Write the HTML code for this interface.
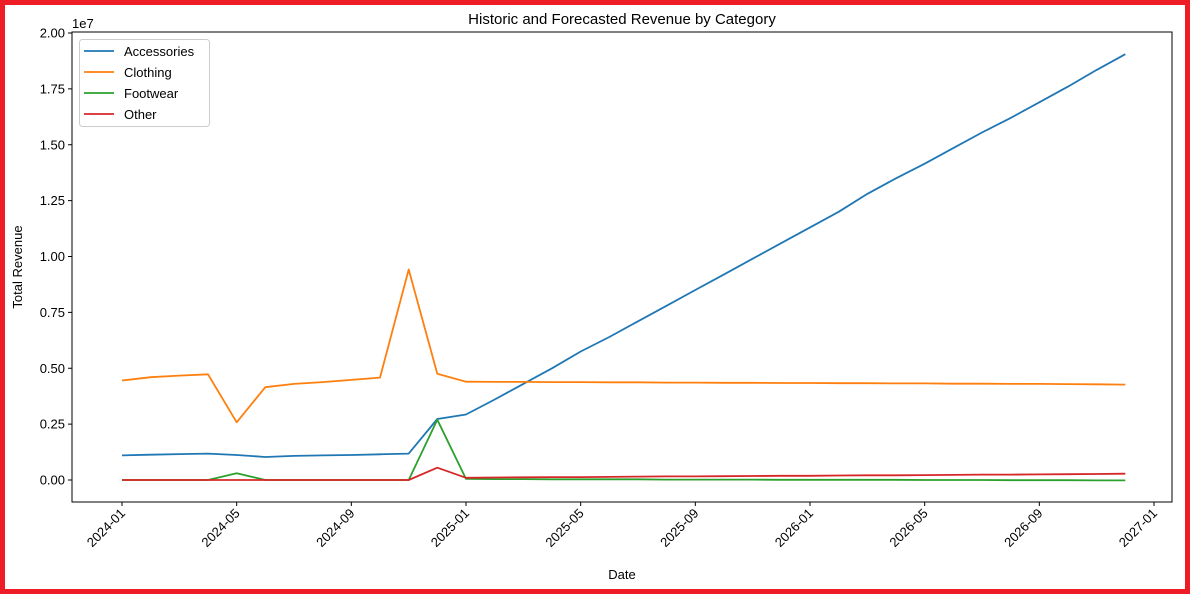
<!DOCTYPE html>
<html><head><meta charset="utf-8"><style>
html,body{margin:0;padding:0;background:#fff}
#wrap{width:1190px;height:594px;box-sizing:border-box;border:5px solid #ee1c25;position:relative;overflow:hidden}
svg{position:absolute;left:-5px;top:-5px;font-family:"Liberation Sans","DejaVu Sans",sans-serif}
</style></head><body>
<div id="wrap">
<svg id="chart" width="1190" height="594"></svg>
</div>
<script>
const months = [];
for (let y = 2024; y <= 2026; y++) for (let m = 1; m <= 12; m++) months.push(y + (m - 1) / 12);
const seriesNames = ["Accessories","Clothing","Footwear","Other"];
const accessories = [1.1,1.13,1.16,1.18,1.12,1.03,1.08,1.1,1.12,1.15,1.18,2.73, 2.93,3.6,4.3,5.0,5.75,6.4,7.1,7.8,8.5,9.2,9.9,10.6, 11.3,12.0,12.8,13.5,14.15,14.85,15.55,16.2,16.9,17.6,18.35,19.05];
const clothing = [4.45,4.6,4.67,4.73,2.58,4.15,4.3,4.38,4.48,4.58,9.42,4.75, 4.4,4.39,4.39,4.38,4.38,4.37,4.37,4.36,4.36,4.35,4.35,4.34, 4.34,4.33,4.33,4.32,4.32,4.31,4.31,4.30,4.30,4.29,4.28,4.27];
const footwear = [0,0,0,0,0.3,0,0,0,0,0,0,2.7, 0.05,0.04,0.04,0.03,0.03,0.03,0.03,0.02,0.02,0.02,0.02,0.01, 0.01,0.01,0.01,0.01,0,0,0,-0.01,-0.01,-0.01,-0.02,-0.02];
const other = [0,0,0,0,0,0,0,0,0,0,0,0.55, 0.1,0.11,0.12,0.13,0.13,0.14,0.15,0.16,0.16,0.17,0.18,0.19, 0.19,0.2,0.21,0.21,0.22,0.23,0.24,0.24,0.25,0.26,0.27,0.28];
const yTicks = [0,2.5,5,7.5,10,12.5,15,17.5,20];
const yTickLabels = ["0.00","0.25","0.50","0.75","1.00","1.25","1.50","1.75","2.00"];
const xTicks = [2024,2024+4/12,2024+8/12,2025,2025+4/12,2025+8/12,2026,2026+4/12,2026+8/12,2027];
const xTickLabels = ["2024-01","2024-05","2024-09","2025-01","2025-05","2025-09","2026-01","2026-05","2026-09","2027-01"];
const colors = ["#1f77b4","#ff7f0e","#2ca02c","#d62728"];
const allSeries = [accessories, clothing, footwear, other];

const L=72,R=1172,T=32,B=502;
const xs = v => 122 + (v - 2024) * 344;
const ys = v => 480 - v * 22.35;
const NS="http://www.w3.org/2000/svg";
const svg=document.getElementById('chart');
function mk(tag, attrs, parent){const e=document.createElementNS(NS,tag);for(const k in attrs)e.setAttribute(k,attrs[k]);(parent||svg).appendChild(e);return e;}

const title=mk('text',{x:(L+R)/2,y:24,'text-anchor':'middle','font-size':15,fill:'#000'});
title.textContent="Historic and Forecasted Revenue by Category";



yTicks.forEach((t,i)=>{
  const y=ys(t);
  const ln=mk('line',{x1:L-4,x2:L,y1:y,y2:y,stroke:'#000'});
  
  
  const tx=mk('text',{x:L-7,y:y+4.5,'text-anchor':'end','font-size':13,fill:'#000'});
  tx.textContent=yTickLabels[i];
  
  
});
const exp=mk('text',{x:L,y:28,'font-size':13,fill:'#000'});
exp.textContent="1e7";



xTicks.forEach((t,i)=>{
  const x=xs(t);
  const ln=mk('line',{x1:x,x2:x,y1:B,y2:B+4,stroke:'#000'});
  
  
  const tx=mk('text',{x:x+4,y:B+12,'text-anchor':'end','font-size':13,fill:'#000',transform:`rotate(-45 ${x+4} ${B+12})`});
  tx.textContent=xTickLabels[i];
  
  
});
const xl=mk('text',{x:(L+R)/2,y:579,'text-anchor':'middle','font-size':13,fill:'#000'});
xl.textContent="Date";


const yl=mk('text',{x:22,y:(T+B)/2,'text-anchor':'middle','font-size':13,fill:'#000',transform:`rotate(-90 22 ${(T+B)/2})`});
yl.textContent="Total Revenue";



allSeries.forEach((s,i)=>{
  const d=s.map((v,j)=>(j?'L':'M')+xs(months[j]).toFixed(1)+' '+ys(v).toFixed(1)).join(' ');
  const p=mk('path',{d:d,fill:'none',stroke:colors[i],'stroke-width':1.8,'stroke-linejoin':'round'});
  
  
});

const frame=mk('rect',{x:L,y:T,width:R-L,height:B-T,fill:'none',stroke:'#000','stroke-width':1});



const lg=mk('rect',{x:79.5,y:39.5,width:130,height:87,rx:3,fill:'#fff','fill-opacity':0.8,stroke:'#ccc'});


seriesNames.forEach((n,i)=>{
  const y=51+i*21;
  const ln=mk('line',{x1:84,x2:114,y1:y,y2:y,stroke:colors[i],'stroke-width':1.8});
  
  
  const tx=mk('text',{x:124,y:y+5,'font-size':13,fill:'#000'});
  tx.textContent=n;
  
  
});
</script>
</body></html>
